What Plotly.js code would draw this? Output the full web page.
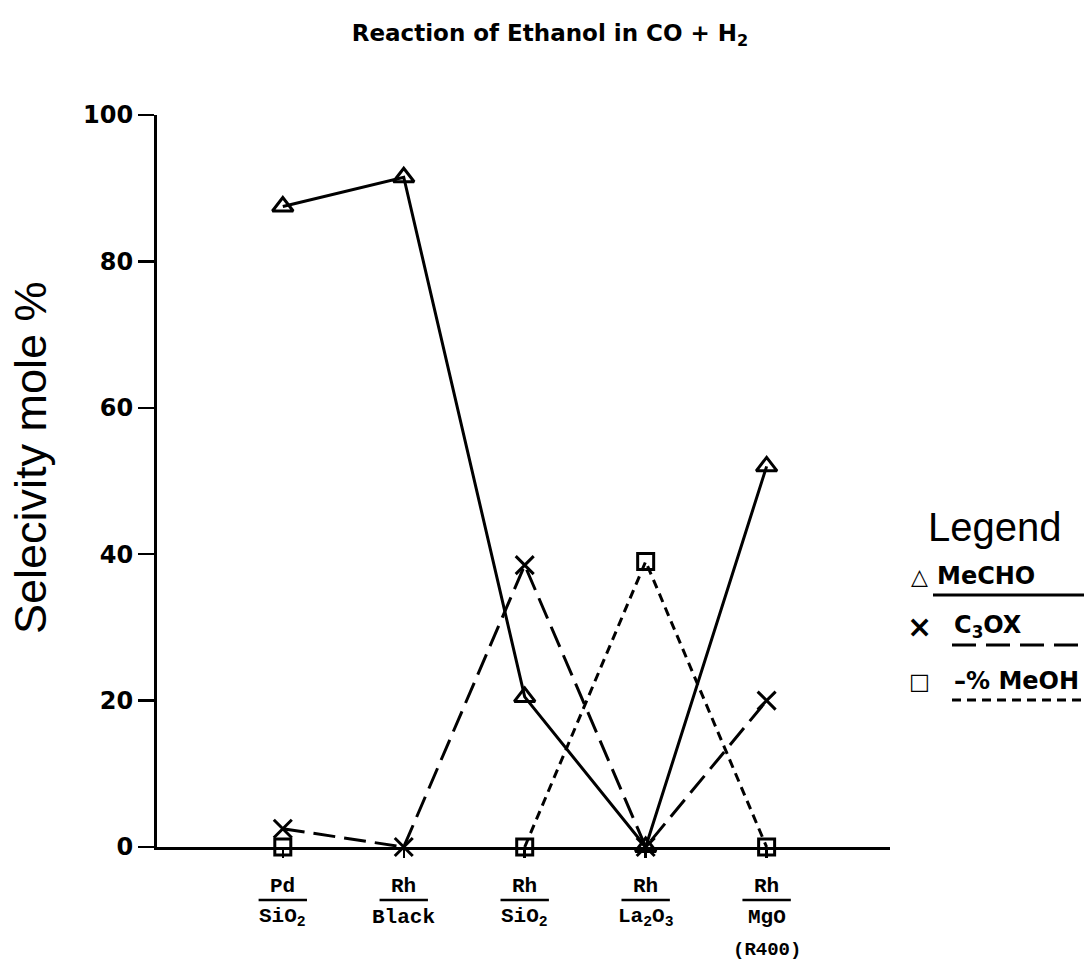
<!DOCTYPE html>
<html>
<head>
<meta charset="utf-8">
<script src="https://cdn.plot.ly/plotly-3.0.1.min.js"></script>
<style>html,body{margin:0;padding:0;background:#fff;}#chart{width:1086px;height:962px;}</style>
</head>
<body>
<div id="chart"></div>
<script>
// ---- data ----
const categories = ['Pd/SiO2', 'Rh/Black', 'Rh/SiO2', 'Rh/La2O3', 'Rh/MgO (R400)'];
const labelTop = ['Pd', 'Rh', 'Rh', 'Rh', 'Rh'];
const labelBottom = ['SiO<sub>2</sub>', 'Black', 'SiO<sub>2</sub>', 'La<sub>2</sub>O<sub>3</sub>', 'MgO'];
const labelExtra = ['', '', '', '', '(R400)'];
const mecho = [87.5, 91.5, 20.5, 0, 52];
const c3ox = [2.5, 0, 38.5, 0, 20];
const meoh = [0, null, 0, 39, 0];
const yTicks = [0, 20, 40, 60, 80, 100];
const seriesNames = ['MeCHO', 'C<sub>3</sub>OX', '\u2013% MeOH'];
const seriesSymbols = ['\u25B3', '\u00D7', '\u25A1'];

const ink = '#000';
const traces = [
  {x: categories, y: mecho, name: 'MeCHO', mode: 'lines+markers',
   line: {color: ink, width: 3, dash: 'solid'},
   marker: {symbol: 'triangle-up-open', size: 18, color: ink, line: {color: ink, width: 3}},
   cliponaxis: false},
  {x: categories, y: c3ox, name: 'C3OX', mode: 'lines+markers',
   line: {color: ink, width: 3, dash: '22px,9px'},
   marker: {symbol: 'x-thin-open', size: 18, color: ink, line: {color: ink, width: 3}},
   cliponaxis: false},
  {x: categories, y: meoh, name: 'MeOH', mode: 'lines+markers', connectgaps: false,
   line: {color: ink, width: 3, dash: '9px,6px'},
   marker: {symbol: 'square-open', size: 16, color: ink, line: {color: ink, width: 3}},
   cliponaxis: false}
];

const L = 157, R = 890, T = 115, B = 847;
const W = 1086, H = 962;
const px = v => (v - L) / (R - L);
const py = v => (B - v) / (B - T);

const mono = {family: 'Liberation Mono, Courier New, monospace', size: 21, color: ink};
const annotations = [];
const shapes = [];
categories.forEach((c, i) => {
  annotations.push({xref: 'x', yref: 'paper', x: c, y: py(886), text: '<b>' + labelTop[i] + '</b>',
    showarrow: false, font: mono, xanchor: 'center', yanchor: 'middle'});
  annotations.push({xref: 'x', yref: 'paper', x: c, y: py(917), text: '<b>' + labelBottom[i] + '</b>',
    showarrow: false, font: mono, xanchor: 'center', yanchor: 'middle'});
  if (labelExtra[i]) {
    annotations.push({xref: 'x', yref: 'paper', x: c, y: py(950), text: '<b>' + labelExtra[i] + '</b>',
      showarrow: false, font: {family: mono.family, size: 19, color: ink}, xanchor: 'center', yanchor: 'middle'});
  }
  shapes.push({type: 'line', xref: 'x', yref: 'paper', x0: i - 0.2, x1: i + 0.2, y0: py(900), y1: py(900),
    line: {color: ink, width: 2.5}});
});

// y-axis title
annotations.push({xref: 'paper', yref: 'paper', x: px(30), y: py(458), text: 'Selecivity mole %', textangle: -90,
  showarrow: false, xanchor: 'center', yanchor: 'middle',
  font: {family: 'Liberation Sans, Arial, sans-serif', size: 45, color: ink}});

// Legend (drawn manually)
annotations.push({xref: 'paper', yref: 'paper', x: px(994), y: py(527), text: 'Legend', showarrow: false,
  font: {family: 'Liberation Sans, Arial, sans-serif', size: 40, color: ink}, xanchor: 'center', yanchor: 'middle'});
const legY = [576, 626, 681];
const legTextX = [935, 952, 952];
const legLineX = [933, 952, 952];
const legSymSize = [22, 30, 22];
const legDash = ['solid', '24px,10px', '9px,6px'];
seriesNames.forEach((n, i) => {
  annotations.push({xref: 'paper', yref: 'paper', x: px(919), y: py(legY[i]), text: '<b>' + seriesSymbols[i] + '</b>', showarrow: false,
    font: {family: 'DejaVu Sans, sans-serif', size: legSymSize[i], color: ink}, xanchor: 'center', yanchor: 'middle'});
  annotations.push({xref: 'paper', yref: 'paper', x: px(legTextX[i]), y: py(legY[i]), text: '<b>' + n + '</b>', showarrow: false,
    font: {family: 'DejaVu Sans, sans-serif', size: 24, color: ink}, xanchor: 'left', yanchor: 'middle'});
  shapes.push({type: 'line', xref: 'paper', yref: 'paper', x0: px(legLineX[i]), x1: px(1084), y0: py(legY[i] + 19), y1: py(legY[i] + 19),
    line: {color: ink, width: 3, dash: legDash[i]}});
});

const layout = {
  width: W, height: H,
  margin: {l: L, r: W - R, t: T, b: H - B, pad: 0},
  paper_bgcolor: '#fff', plot_bgcolor: '#fff',
  showlegend: false,
  title: {text: 'Reaction of Ethanol in CO + H<sub>2</sub>', x: px(550), xref: 'paper', xanchor: 'center',
    y: 1 - 33 / H, yanchor: 'middle',
    font: {family: 'DejaVu Sans, sans-serif', size: 23, color: ink, weight: 'bold'}},
  xaxis: {type: 'category', categoryarray: categories, range: [-1.04, 5.02], showgrid: false, zeroline: false,
    showline: true, linecolor: ink, linewidth: 3, ticks: 'outside', ticklen: 8, tickwidth: 2.5, tickcolor: ink,
    showticklabels: false, fixedrange: true},
  yaxis: {range: [0, 100], tickvals: yTicks, showgrid: false, zeroline: false,
    showline: true, linecolor: ink, linewidth: 3, ticks: 'outside', ticklen: 16, tickwidth: 2.5, tickcolor: ink,
    tickfont: {family: 'DejaVu Sans, sans-serif', size: 24, color: ink, weight: 'bold'},
    fixedrange: true},
  annotations: annotations,
  shapes: shapes
};

Plotly.newPlot('chart', traces, layout, {displayModeBar: false, staticPlot: true});
</script>
</body>
</html>
